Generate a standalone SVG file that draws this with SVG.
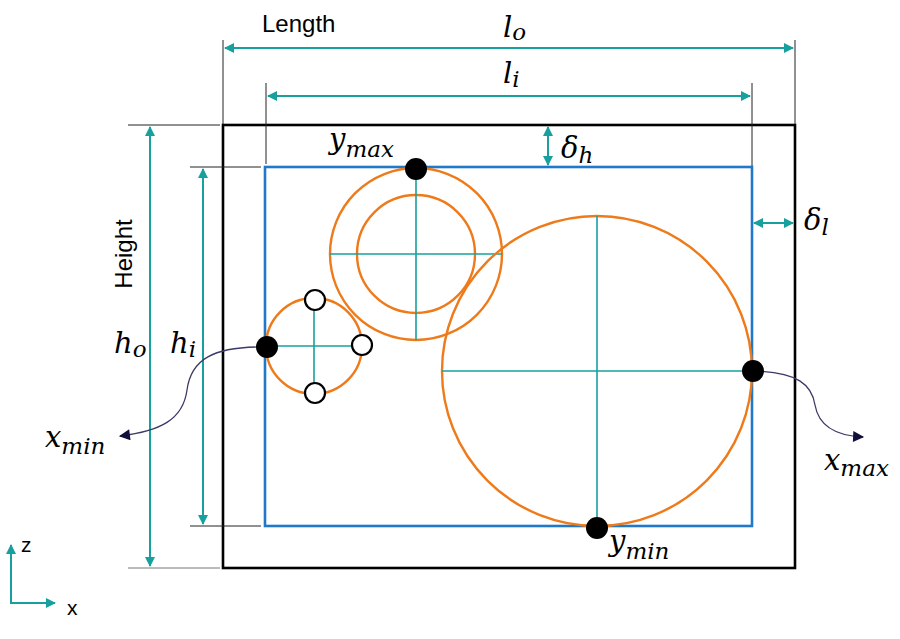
<svg xmlns="http://www.w3.org/2000/svg" width="900" height="639" viewBox="0 0 900 639">
<style>
.teal{stroke:#17a09e;stroke-width:2;fill:none}
.tealthin{stroke:#17a09e;stroke-width:1.6;fill:none}
.ext{stroke:#222;stroke-width:1;fill:none}
.orange{stroke:#ee7a1a;stroke-width:2.4;fill:none}
.blue{stroke:#1f78c8;stroke-width:2.6;fill:none}
.outer{stroke:#000;stroke-width:2.6;fill:none}
.curve{stroke:#3a3a66;stroke-width:1.3;fill:none}
.lbl{font-family:"Liberation Sans",Arial,sans-serif;font-size:21px;fill:#000}
.math{font-family:"DejaVu Serif","Liberation Serif",serif;font-style:italic;font-size:29px;fill:#000}
.sub{font-size:23px}
.dot{fill:#000}
.hollow{fill:#fff;stroke:#000;stroke-width:2.2}
</style>
<defs>
<marker id="ta2" viewBox="0 0 10 10" refX="9" refY="5" markerWidth="12" markerHeight="10" orient="auto-start-reverse" markerUnits="userSpaceOnUse">
<path d="M0,0 L10,5 L0,10 z" fill="#17a09e"/>
</marker>
<marker id="na" viewBox="0 0 10 10" refX="9" refY="5" markerWidth="13" markerHeight="11" orient="auto" markerUnits="userSpaceOnUse">
<path d="M0,0 L10,5 L0,10 z" fill="#10103a"/>
</marker>
</defs>

<g id="outer-box"><rect class="outer" x="223" y="125" width="572" height="443"/></g>
<g id="inner-box"><rect class="blue" x="265" y="167" width="487" height="359"/></g>

<g id="connectors">
<line class="ext" x1="223" y1="40" x2="223" y2="124"/>
<line class="ext" x1="795" y1="40" x2="795" y2="124"/>
<line class="ext" x1="266" y1="83" x2="266" y2="164"/>
<line class="ext" x1="752" y1="83" x2="752" y2="166"/>
<line class="ext" x1="128" y1="125" x2="220" y2="125"/>
<line class="ext" x1="190" y1="167" x2="261" y2="167"/>
<line class="ext" x1="190" y1="526" x2="261" y2="526"/>
<line class="ext" x1="128" y1="568" x2="220" y2="568" style="stroke:#777"/>
<line class="teal" x1="225" y1="48" x2="793" y2="48" marker-start="url(#ta2)" marker-end="url(#ta2)"/>
<line class="teal" x1="268" y1="96" x2="750" y2="96" marker-start="url(#ta2)" marker-end="url(#ta2)"/>
<line class="teal" x1="548" y1="127" x2="548" y2="165" marker-start="url(#ta2)" marker-end="url(#ta2)"/>
<line class="teal" x1="754" y1="223" x2="793" y2="223" marker-start="url(#ta2)" marker-end="url(#ta2)"/>
<line class="teal" x1="150" y1="127" x2="150" y2="566" marker-start="url(#ta2)" marker-end="url(#ta2)"/>
<line class="teal" x1="203" y1="169" x2="203" y2="524" marker-start="url(#ta2)" marker-end="url(#ta2)"/>
<line class="teal" x1="11" y1="603" x2="11" y2="545" marker-end="url(#ta2)"/>
<line class="teal" x1="10" y1="603" x2="55" y2="603" marker-end="url(#ta2)"/>
<path class="curve" d="M267,347 C212,346 191,360 187,390 C183,420 160,431 120,436" marker-end="url(#na)"/>
<path class="curve" d="M753,371 C798,372 812,385 815,405 C819,428 840,436 863,437" marker-end="url(#na)"/>
</g>

<g id="small-circle">
<circle class="orange" cx="314" cy="346" r="48"/>
<line class="tealthin" x1="267" y1="346" x2="362" y2="346"/>
<line class="tealthin" x1="314" y1="300" x2="314" y2="393"/>
<circle class="hollow" cx="315" cy="300" r="10"/>
<circle class="hollow" cx="362" cy="345" r="10"/>
<circle class="hollow" cx="315" cy="393" r="10"/>
</g>

<g id="medium-circle">
<circle class="orange" cx="416" cy="254" r="86"/>
<circle class="orange" cx="416" cy="254" r="59"/>
<line class="tealthin" x1="330" y1="254" x2="502" y2="254"/>
<line class="tealthin" x1="416" y1="170" x2="416" y2="340"/>
</g>

<g id="big-circle">
<circle class="orange" cx="597" cy="371" r="155"/>
<line class="tealthin" x1="442" y1="371" x2="752" y2="371"/>
<line class="tealthin" x1="597" y1="216" x2="597" y2="526"/>
</g>

<g id="points">
<circle class="dot" cx="267" cy="347" r="11"/>
<circle class="dot" cx="416" cy="169" r="11"/>
<circle class="dot" cx="753" cy="371" r="11"/>
<circle class="dot" cx="597" cy="528" r="11"/>
</g>

<g id="labels">
<text class="lbl" x="262" y="32" style="font-size:24px">Length</text>
<text class="lbl" x="0" y="0" style="font-size:24px" transform="translate(132,254) rotate(-90)" text-anchor="middle">Height</text>
<text class="lbl" x="21" y="552">z</text>
<text class="lbl" x="67" y="615">x</text>
<text class="math" x="503" y="37">l<tspan class="sub" dy="3">o</tspan></text>
<text class="math" x="503" y="83">l<tspan class="sub" dy="4">i</tspan></text>
<text class="math" x="561" y="158">δ<tspan class="sub" dy="5">h</tspan></text>
<text class="math" x="804" y="230">δ<tspan class="sub" dy="5">l</tspan></text>
<text class="math" x="114" y="353">h<tspan class="sub" dy="4">o</tspan></text>
<text class="math" x="170" y="353">h<tspan class="sub" dy="4">i</tspan></text>
<text class="math" x="329" y="149">y<tspan class="sub" dy="8">max</tspan></text>
<text class="math" x="609" y="551">y<tspan class="sub" dy="8">min</tspan></text>
<text class="math" x="45" y="447">x<tspan class="sub" dy="7">min</tspan></text>
<text class="math" x="824" y="470">x<tspan class="sub" dy="6">max</tspan></text>
</g>
</svg>
